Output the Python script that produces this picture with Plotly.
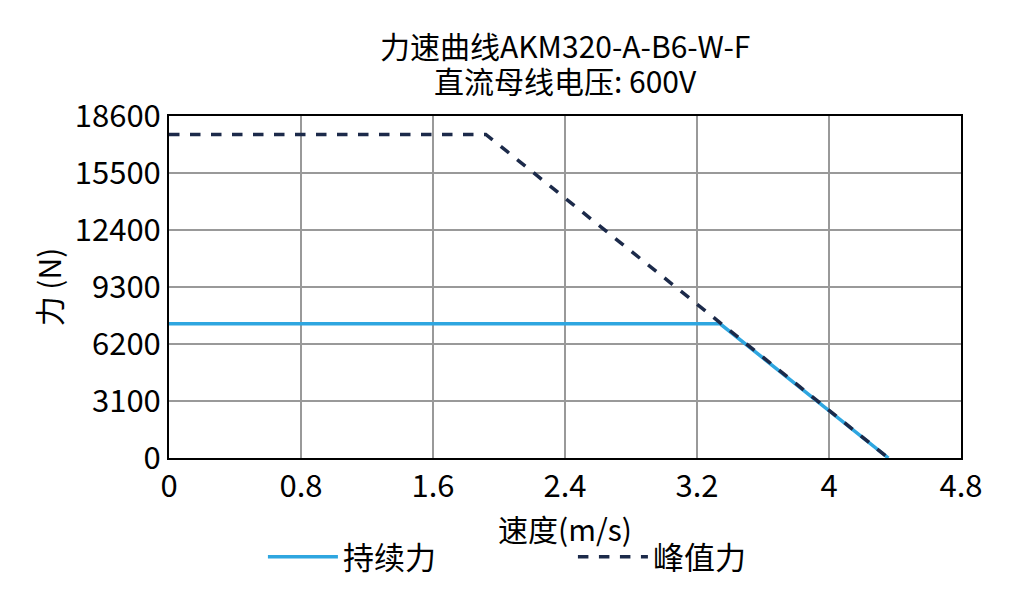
import plotly.graph_objects as go

cont_x = [0, 3.34, 4.36]
cont_y = [7300, 7300, 0]
peak_x = [0, 1.92, 4.36]
peak_y = [17600, 17600, 0]
xticks = [0, 0.8, 1.6, 2.4, 3.2, 4, 4.8]
yticks = [0, 3100, 6200, 9300, 12400, 15500, 18600]
title1 = "力速曲线AKM320-A-B6-W-F"
title2 = "直流母线电压: 600V"

F = "Noto Sans CJK SC"
fig = go.Figure()
fig.add_trace(go.Scatter(x=cont_x, y=cont_y, mode="lines", name="持续力",
                         line=dict(color="#2ea6e0", width=3.5)))
fig.add_trace(go.Scatter(x=peak_x, y=peak_y, mode="lines", name="峰值力",
                         line=dict(color="#1c2a4a", width=3.5, dash="dash")))
fig.update_layout(
    width=1016, height=607, paper_bgcolor="white", plot_bgcolor="white",
    margin=dict(l=161, r=63, t=108, b=157, autoexpand=False),
    font=dict(family=F, size=32, color="black"),
    legend=dict(orientation="h", x=0.51, xanchor="center", y=-0.29, yanchor="middle",
                font=dict(size=31), itemwidth=70, entrywidthmode="pixels", entrywidth=225),
    annotations=[
        dict(text=title1, x=0.5, y=1.208, xref="paper", yref="paper", showarrow=False,
             yanchor="middle", font=dict(size=30)),
        dict(text=title2, x=0.5, y=1.105, xref="paper", yref="paper", showarrow=False,
             yanchor="middle", font=dict(size=30)),
    ],
)
fig.update_xaxes(range=[0, 4.8], tickvals=xticks, ticktext=[str(v) for v in xticks],
                 showgrid=True, gridcolor="#999", gridwidth=1.5, showline=True,
                 linecolor="black", linewidth=2, mirror=True, ticks="", zeroline=False,
                 tickfont=dict(size=31), automargin=False,
                 title=dict(text="速度(m/s)", standoff=0, font=dict(size=30)))
fig.update_yaxes(range=[0, 18600], tickvals=yticks, ticktext=[str(v) for v in yticks],
                 showgrid=True, gridcolor="#999", gridwidth=1.5, showline=True,
                 linecolor="black", linewidth=2, mirror=True, ticks="", zeroline=False,
                 tickfont=dict(size=31), automargin=False,
                 title=dict(text="力 (N)", standoff=4, font=dict(size=30)))
fig.write_html("out.html")
